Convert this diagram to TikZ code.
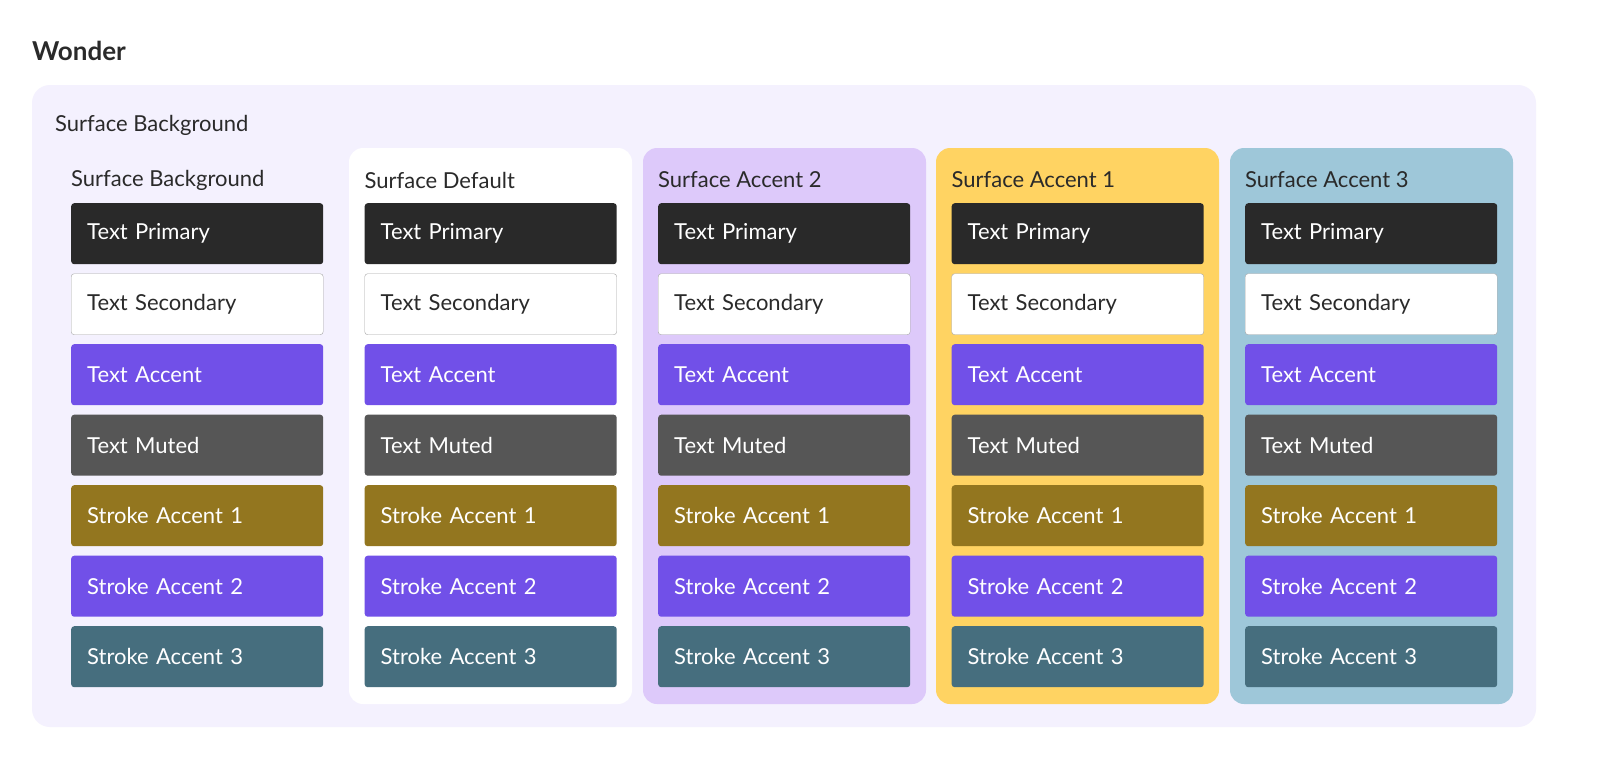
\documentclass[tikz,border=0pt]{standalone}
\usepackage{fontspec}
\setmainfont{Lato}
\definecolor{outerbg}{HTML}{F4F1FE}
\definecolor{cpurple}{HTML}{DDC9FA}
\definecolor{cyellow}{HTML}{FFD362}
\definecolor{cblue}{HTML}{9EC7D9}
\definecolor{tprim}{HTML}{292929}
\definecolor{tacc}{HTML}{7150E8}
\definecolor{tmut}{HTML}{565656}
\definecolor{sone}{HTML}{93761F}
\definecolor{sthree}{HTML}{466E7E}
\definecolor{ink}{HTML}{2A2A2A}
\tikzset{
  swatch/.style={anchor=north west,minimum width=252pt,minimum height=61pt,rounded corners=3pt,inner xsep=16pt,text=white,font=\fontsize{22}{26}\selectfont,align=left,text width=220pt},
  hdr/.style={anchor=west,text=ink,font=\fontsize{22}{26}\selectfont,inner sep=0pt},
  panel/.style={rounded corners=14pt}
}
\begin{document}
\begin{tikzpicture}[x=1pt,y=-1pt]
\useasboundingbox[fill=white] (0,0) rectangle (1600,774);
\node[anchor=west,inner sep=0pt,text=ink,font=\fontsize{26}{30}\selectfont\bfseries] (title) at (32,51) {Wonder};
\fill[outerbg,rounded corners=18pt] (32,85) rectangle (1536,727);
\node[hdr] (sb) at (55,125) {Surface Background};
\fill[white,panel] (349,148) rectangle (632,704);
\fill[cpurple,panel] (643,148) rectangle (926,704);
\fill[cyellow,panel] (936,148) rectangle (1219,704);
\fill[cblue,panel] (1230,148) rectangle (1513,704);
\foreach \i/\h in {0/Surface Background,1/Surface Default,2/Surface Accent 2,3/Surface Accent 1,4/Surface Accent 3}{
  \pgfmathsetmacro{\cx}{71+293.5*\i}
  \node[hdr] (h\i) at (\cx,180) {\h};
  \node[swatch,fill=tprim] (a\i) at (\cx,203) {Text Primary};
  \node[swatch,fill=white,draw=gray!70,text=ink] (b\i) at (\cx,273.5) {Text Secondary};
  \node[swatch,fill=tacc] (c\i) at (\cx,344) {Text Accent};
  \node[swatch,fill=tmut] (d\i) at (\cx,414.5) {Text Muted};
  \node[swatch,fill=sone] (e\i) at (\cx,485) {Stroke Accent 1};
  \node[swatch,fill=tacc] (f\i) at (\cx,555.5) {Stroke Accent 2};
  \node[swatch,fill=sthree] (g\i) at (\cx,626) {Stroke Accent 3};
}
\end{tikzpicture}
\end{document}
